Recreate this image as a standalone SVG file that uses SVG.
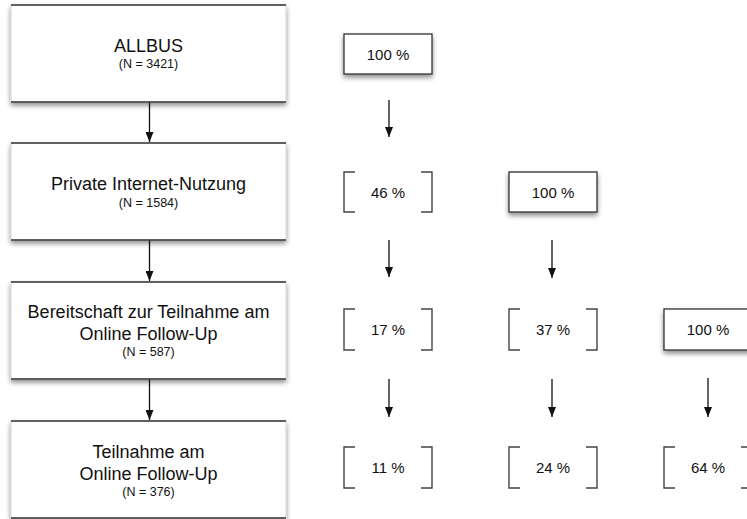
<svg xmlns="http://www.w3.org/2000/svg" width="747" height="519" viewBox="0 0 747 519">
<defs>
<filter id="sh" x="-10%" y="-20%" width="120%" height="150%">
<feDropShadow dx="0" dy="3" stdDeviation="2.5" flood-color="#000" flood-opacity="0.45"/>
</filter>
<marker id="ah" markerWidth="10" markerHeight="8" refX="10" refY="4" orient="auto" markerUnits="userSpaceOnUse" viewBox="0 0 10 8">
<path d="M0,0 L10,4 L0,8 Z" fill="#111"/>
</marker>
</defs>
<style>
.bg{fill:#fff;stroke:#d4d4d4;stroke-width:1}
.edge{stroke:#333;stroke-width:1.5;fill:none}
.pbox{fill:#fff;stroke:#333;stroke-width:1.3}
.br{fill:none;stroke:#444;stroke-width:1.4}
.t{font-family:"Liberation Sans",Arial,sans-serif;fill:#111;text-anchor:middle}
.main{font-size:18px}
.n{font-size:12.5px}
.p{font-size:15px}
.arr{stroke:#111;stroke-width:1.3;fill:none;marker-end:url(#ah)}
</style>
<rect width="747" height="519" fill="#fff"/>

<g id="node-allbus">
<rect class="bg" x="11" y="5" width="275" height="97" filter="url(#sh)"/>
<line class="edge" x1="11" y1="5" x2="286" y2="5"/>
<line class="edge" x1="11" y1="102" x2="286" y2="102"/>
<text class="t main" x="148.5" y="52">ALLBUS</text>
<text class="t n" x="148.5" y="68">(N = 3421)</text>
</g>

<g id="node-internet">
<rect class="bg" x="11" y="143" width="275" height="97" filter="url(#sh)"/>
<line class="edge" x1="11" y1="143" x2="286" y2="143"/>
<line class="edge" x1="11" y1="240" x2="286" y2="240"/>
<text class="t main" x="148.5" y="189.5">Private Internet-Nutzung</text>
<text class="t n" x="148.5" y="206.5">(N = 1584)</text>
</g>

<g id="node-bereitschaft">
<rect class="bg" x="11" y="282" width="275" height="97" filter="url(#sh)"/>
<line class="edge" x1="11" y1="282" x2="286" y2="282"/>
<line class="edge" x1="11" y1="379" x2="286" y2="379"/>
<text class="t main" x="148.5" y="318">Bereitschaft zur Teilnahme am</text>
<text class="t main" x="148.5" y="339.5">Online Follow-Up</text>
<text class="t n" x="148.5" y="356">(N = 587)</text>
</g>

<g id="node-teilnahme">
<rect class="bg" x="11" y="421" width="275" height="97" filter="url(#sh)"/>
<line class="edge" x1="11" y1="421" x2="286" y2="421"/>
<line class="edge" x1="11" y1="518" x2="286" y2="518"/>
<text class="t main" x="148.5" y="458">Teilnahme am</text>
<text class="t main" x="148.5" y="479.5">Online Follow-Up</text>
<text class="t n" x="148.5" y="496">(N = 376)</text>
</g>

<g id="p1-100">
<rect class="pbox" x="344" y="34" width="88" height="40" filter="url(#sh)"/>
<text class="t p" x="388" y="59.5">100 %</text>
</g>
<g id="p1-46">
<path class="br" d="M355,172 H344 V212 H355 M421,172 H432 V212 H421"/>
<text class="t p" x="388" y="197.5">46 %</text>
</g>
<g id="p1-17">
<path class="br" d="M355,309 H344 V350 H355 M421,309 H432 V350 H421"/>
<text class="t p" x="388" y="335">17 %</text>
</g>
<g id="p1-11">
<path class="br" d="M355,447 H344 V488 H355 M421,447 H432 V488 H421"/>
<text class="t p" x="388" y="473">11 %</text>
</g>

<g id="p2-100">
<rect class="pbox" x="509" y="172" width="88" height="40" filter="url(#sh)"/>
<text class="t p" x="553" y="197.5">100 %</text>
</g>
<g id="p2-37">
<path class="br" d="M520,309 H509 V350 H520 M586,309 H597 V350 H586"/>
<text class="t p" x="553" y="335">37 %</text>
</g>
<g id="p2-24">
<path class="br" d="M520,447 H509 V488 H520 M586,447 H597 V488 H586"/>
<text class="t p" x="553" y="473">24 %</text>
</g>

<g id="p3-100">
<rect class="pbox" x="664" y="309" width="88" height="41" filter="url(#sh)"/>
<text class="t p" x="708" y="335">100 %</text>
</g>
<g id="p3-64">
<path class="br" d="M675,447 H664 V488 H675 M741,447 H752 V488 H741"/>
<text class="t p" x="708" y="473">64 %</text>
</g>

<g id="connectors">
<line class="arr" x1="149.5" y1="102.5" x2="149.5" y2="142"/>
<line class="arr" x1="149.5" y1="240.5" x2="149.5" y2="281"/>
<line class="arr" x1="149.5" y1="379.5" x2="149.5" y2="420"/>
<line class="arr" x1="389" y1="100" x2="389" y2="137"/>
<line class="arr" x1="389" y1="240" x2="389" y2="277"/>
<line class="arr" x1="389" y1="379" x2="389" y2="417"/>
<line class="arr" x1="552" y1="240" x2="552" y2="278"/>
<line class="arr" x1="552" y1="379" x2="552" y2="417"/>
<line class="arr" x1="708" y1="378" x2="708" y2="417"/>
</g>
</svg>
